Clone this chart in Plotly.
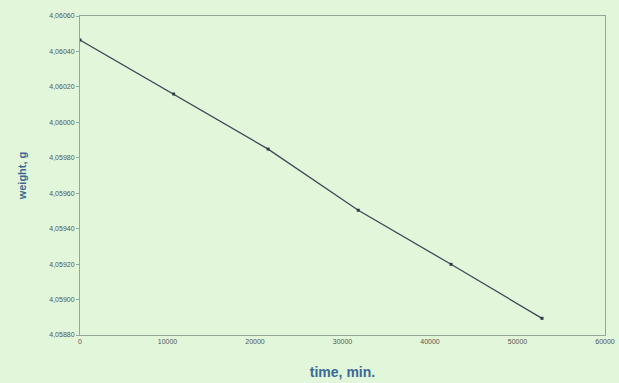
import plotly.graph_objects as go

time_min = [0, 10700, 21500, 31800, 42400, 52800]
weight_g = [4.060464, 4.060160, 4.059849, 4.059504, 4.059199, 4.058894]

y_ticks = [4.05880, 4.05900, 4.05920, 4.05940, 4.05960, 4.05980, 4.06000, 4.06020, 4.06040, 4.06060]
y_labels = [f"{v:.5f}".replace(".", ",") for v in y_ticks]
x_ticks = [0, 10000, 20000, 30000, 40000, 50000, 60000]
x_labels = [str(v) for v in x_ticks]

fig = go.Figure()
fig.add_trace(go.Scatter(
    x=time_min, y=weight_g, mode="lines+markers",
    line=dict(color="#3b4a5c", width=1.3),
    marker=dict(symbol="square", size=3, color="#2e3a48"),
    showlegend=False,
))

fig.update_layout(
    width=619, height=383,
    margin=dict(l=80, r=14, t=16, b=48),
    paper_bgcolor="#e2f6da",
    plot_bgcolor="#e2f6da",
    font=dict(family="Arial, Liberation Sans", color="#555555", size=7),
    xaxis=dict(
        range=[0, 60000], tickvals=x_ticks, ticktext=x_labels, automargin=False,
        showgrid=False, zeroline=False, showline=True, linecolor="#9aa59a",
        linewidth=1, mirror=True, ticks="", ticklen=3,
        tickfont=dict(size=7, color="#555555"),
        title=dict(text="<b>time, min.</b>", font=dict(size=14, color="#3a6a95"), standoff=22),
    ),
    yaxis=dict(
        range=[4.05880, 4.06060], tickvals=y_ticks, ticktext=y_labels, automargin=False,
        showgrid=False, zeroline=False, showline=True, linecolor="#9aa59a",
        linewidth=1, mirror=True, ticks="outside", ticklen=3, tickcolor="#9aa59a",
        tickfont=dict(size=7, color="#555555"),
        title=dict(text="<b>weight, g</b>", font=dict(size=11, color="#3a6a95"), standoff=20),
    ),
)

fig.write_html("out.html")
